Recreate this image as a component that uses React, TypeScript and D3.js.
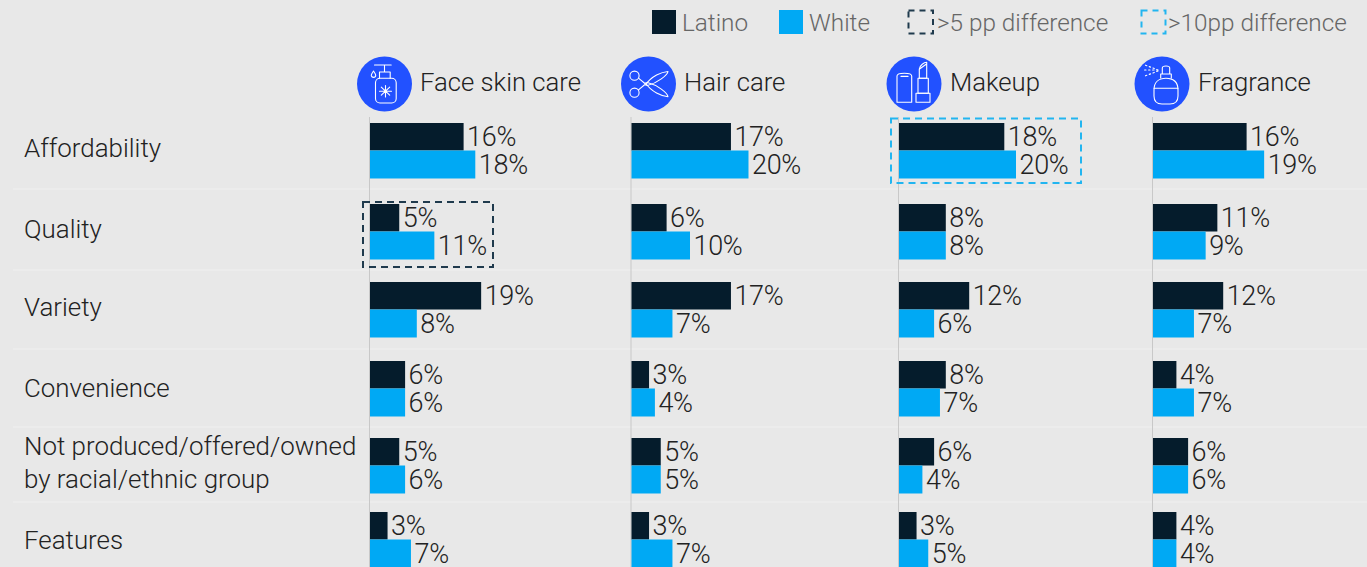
import React from "react";
import * as d3 from "d3";

const W = 1367;
const H = 567;
const FONT = "Roboto, 'Liberation Sans', sans-serif";

// Share of respondents by purchase driver, one list per category and group.
const drivers = [
  "Affordability",
  "Quality",
  "Variety",
  "Convenience",
  "Not produced",
  "Features",
];
const driverLines = [
  ["Affordability"],
  ["Quality"],
  ["Variety"],
  ["Convenience"],
  ["Not produced/offered/owned", "by racial/ethnic group"],
  ["Features"],
];
const categories = ["Face skin care", "Hair care", "Makeup", "Fragrance"];

const latinoFace = [16, 5, 19, 6, 5, 3];
const whiteFace = [18, 11, 8, 6, 6, 7];
const latinoHair = [17, 6, 17, 3, 5, 3];
const whiteHair = [20, 10, 7, 4, 5, 7];
const latinoMakeup = [18, 8, 12, 8, 6, 3];
const whiteMakeup = [20, 8, 6, 7, 4, 5];
const latinoFragrance = [16, 11, 12, 4, 6, 4];
const whiteFragrance = [19, 9, 7, 7, 6, 4];

const latinoByCategory = [latinoFace, latinoHair, latinoMakeup, latinoFragrance];
const whiteByCategory = [whiteFace, whiteHair, whiteMakeup, whiteFragrance];

const NAVY = "#051c2c";
const CYAN = "#00a9f4";
const BLUE = "#2251ff";
const INK = "#222222";

// Uneven row rhythm and column origins of the panel grid.
const rowTop = d3.scaleOrdinal<string, number>(drivers, [123, 204, 282, 361, 438, 512]);
const rowLabelY = d3.scaleOrdinal<string, number>(drivers, [148, 229, 307, 388, 446, 540]);
const columnX = d3.scaleOrdinal<string, number>(categories, [370, 631.5, 899, 1153]);
const iconX = d3.scaleOrdinal<string, number>(categories, [384.5, 648.5, 914, 1162]);
const titleX = d3.scaleOrdinal<string, number>(categories, [420, 684, 950, 1198]);
const separators = [189, 270, 349, 427, 502];

const barLength = d3.scaleLinear().domain([0, 20]).range([0, 117]);
const BAR_H = 27.5;

function SoapIcon() {
  return (
    <g>
      <rect x={-9} y={-5.7} width={20.7} height={24.7} rx={4.5} />
      <path d="M-5-5.7V-12H5.7V-5.7M0-12V-19M-10-19H6.7" />
      <path d="M-11-13c-1.6 2.4-2.2 3.4-2.2 4.2a2.2 2.2 0 0 0 4.4 0c0-.8-.6-1.8-2.2-4.2z" />
      <path d="M1 1.5V13M-5 7.2H7M-3.2 3.2L5.2 11.2M5.2 3.2L-3.2 11.2" />
    </g>
  );
}

function ScissorsIcon() {
  return (
    <g>
      <circle cx={-14} cy={-8.3} r={4.6} />
      <circle cx={-14} cy={8.7} r={4.6} />
      <path d="M-10-5.8L-3 0L-10 5.8" />
      <path d="M-3 1C3-8 13-12 19.5-12.5C19-9 9-1 -1 1.5z" />
      <path d="M-3 -1C3 8 13 12 19.5 12.8C19 9 9 1 -1 -1.5z" />
    </g>
  );
}

function MakeupIcon() {
  return (
    <g>
      <path d="M-17 18.3V-8c0-2 2-2.8 7.3-2.8s7.4.8 7.4 2.8V18.3z" />
      <path d="M-13-7.6H-6" />
      <rect x={2} y={9.3} width={14} height={9} />
      <rect x={4} y={-5.7} width={10.3} height={15} />
      <path d="M5.3-5.7V-15C6-19 10-21.5 12.7-21.7V-5.7zM5.6-15L12.5-20" />
    </g>
  );
}

function FragranceIcon() {
  return (
    <g>
      <path d="M-8 6C-8-2 -3-5.7 4-5.7S16-2 16 6V12C16 18 12 20 8 20H0C-4 20-8 18-8 12z" />
      <path d="M-8 4.3H16" />
      <path d="M-1.3-6V-10H9.3V-6M.3-10V-16C.3-18 2-18 4-18S7.7-18 7.7-16V-10" />
      <path d="M-4-14L-17-19M-4-14H-18M-4-13L-17-8" strokeDasharray="1.4 2.6" />
    </g>
  );
}

const icons = [SoapIcon, ScissorsIcon, MakeupIcon, FragranceIcon];

function DashedBox(props: { x: number; y: number; w: number; h: number; color: string; dash?: string }) {
  return (
    <rect
      x={props.x}
      y={props.y}
      width={props.w}
      height={props.h}
      fill="none"
      stroke={props.color}
      strokeWidth={2}
      strokeDasharray={props.dash ?? "7 5"}
    />
  );
}

export default function App() {
  return (
    <svg
      width={W}
      height={H}
      viewBox={`0 0 ${W} ${H}`}
      style={{ position: "fixed", left: 0, top: 0, display: "block", background: "#e8e8e8" }}
      fontFamily={FONT}
      fontWeight={300}
    >
      <rect width={W} height={H} fill="#e8e8e8" />

      {separators.map((y) => (
        <line key={y} x1={13} x2={W} y1={y} y2={y} stroke="#eeeeee" strokeWidth={1.5} />
      ))}

      {/* Legend */}
      <g fontSize={24.3} fill="#666666">
        <rect x={652} y={10} width={24} height={24} fill={NAVY} />
        <text x={682} y={31}>Latino</text>
        <rect x={779} y={10} width={24} height={24} fill={CYAN} />
        <text x={809} y={31}>White</text>
        <DashedBox x={908.5} y={10.5} w={24.5} h={23} color="#1f3a4d" dash="6 5" />
        <text x={937} y={31}>&gt;5 pp difference</text>
        <DashedBox x={1141.5} y={10.5} w={24} h={23} color="#22b5f0" dash="6 5" />
        <text x={1168} y={31}>&gt;10pp difference</text>
      </g>

      {/* Row labels */}
      <g fontSize={25.9} fill={INK}>
        {drivers.map((d, i) =>
          driverLines[i].map((line, j) => (
            <text key={line} x={24} y={rowLabelY(d) + 9 + j * 33}>
              {line}
            </text>
          ))
        )}
      </g>

      {categories.map((cat, c) => {
        const Icon = icons[c];
        const x0 = columnX(cat);
        return (
          <g key={cat}>
            <circle cx={iconX(cat)} cy={84} r={27.5} fill={BLUE} />
            <g
              transform={`translate(${iconX(cat)},84)`}
              fill="none"
              stroke="#ffffff"
              strokeWidth={1.1}
              strokeLinejoin="round"
              strokeLinecap="round"
            >
              <Icon />
            </g>
            <text x={titleX(cat)} y={91} fontSize={25.7} fill={INK}>
              {cat}
            </text>
            <line x1={x0 - 0.5} x2={x0 - 0.5} y1={117} y2={H} stroke="#c8c8c8" strokeWidth={1} />
            {drivers.map((d, r) => {
              const top = rowTop(d);
              const series = [
                { value: latinoByCategory[c][r], color: NAVY },
                { value: whiteByCategory[c][r], color: CYAN },
              ];
              return series.map((s, k) => {
                const len = barLength(s.value);
                const y = top + k * BAR_H;
                return (
                  <g key={k}>
                    <rect x={x0} y={y} width={len} height={BAR_H + (k === 1 ? 0.5 : 0)} fill={s.color} />
                    <text x={x0 + len + 3.5} y={y + 23} fontSize={27} fill={INK} letterSpacing={-0.3}>
                      {s.value}%
                    </text>
                  </g>
                );
              });
            })}
          </g>
        );
      })}

      {/* Highlight frames around rows with notable gaps */}
      <DashedBox x={363} y={202} w={130} h={65} color="#1f3a4d" />
      <DashedBox x={891} y={118.5} w={190} h={64.5} color="#22b5f0" />
    </svg>
  );
}
